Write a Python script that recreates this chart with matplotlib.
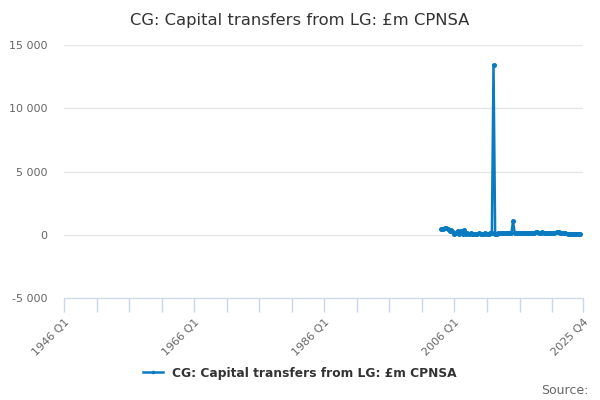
import numpy as np
import matplotlib
matplotlib.use("Agg")
import matplotlib.pyplot as plt
from matplotlib.ticker import FuncFormatter

# quarterly categories 1946 Q1 .. 2025 Q4
years = np.arange(1946, 2026)
quarters = [f"{y} Q{q}" for y in years for q in range(1, 5)]

# series starts at 2004 Q1 (values in £m)
start = quarters.index("2004 Q1")
values = [
    450, 480, 520, 550,      # 2004
    430, 300, 350, 250,      # 2005
    40, 150, 330, 90,        # 2006
    280, 80, 360, 60,        # 2007
    110, 90, 100, 80,        # 2008
    90, 70, 80, 100,         # 2009
    80, 90, 70, 100,         # 2010
    90, 80, 100, 110,        # 2011
    13400, 80, 90, 100,      # 2012
    110, 120, 130, 150,      # 2013
    140, 130, 160, 170,      # 2014
    1050, 150, 120, 140,     # 2015
    130, 120, 140, 130,      # 2016
    150, 160, 170, 150,      # 2017
    140, 160, 180, 200,      # 2018
    170, 150, 180, 160,      # 2019
    120, 140, 150, 130,      # 2020
    120, 140, np.nan, 200,   # 2021
    180, 150, 130, 120,      # 2022
    110, np.nan, 90, 80,     # 2023
    90, 70, 80, 90,          # 2024
    80, 90, np.nan, np.nan,  # 2025
]
series = np.full(len(quarters), np.nan)
series[start:start + len(values)] = values
x = np.arange(len(quarters))

title = "CG: Capital transfers from LG: £m CPNSA"

fig = plt.figure(figsize=(6, 4), dpi=100)
ax = fig.add_axes([64 / 600, 1 - 298 / 400, (583 - 64) / 600, (298 - 45) / 400])

ax.plot(x, series, color="#0a7bc1", lw=1.8, marker="o", ms=2.6, label=title)

ax.set_xlim(0, len(quarters) - 1)
ax.set_ylim(-5000, 15000)
ax.set_yticks([-5000, 0, 5000, 10000, 15000])
ax.yaxis.set_major_formatter(FuncFormatter(lambda v, p: f"{int(v):,}".replace(",", " ")))
ax.grid(axis="y", color="#e6e6e6", lw=1)
ax.set_axisbelow(True)

for s in ["top", "right", "left"]:
    ax.spines[s].set_visible(False)
ax.spines["bottom"].set_color("#ccd6eb")

minor = list(range(0, len(quarters), 20)) + [len(quarters) - 1]
ax.set_xticks(minor, minor=True)
lab_pos = [0, 80, 160, 240, len(quarters) - 1]
ax.set_xticks(lab_pos)
ax.set_xticklabels([quarters[i] for i in lab_pos], rotation=45, ha="right",
                   rotation_mode="anchor", fontsize=8, color="#666666")
ax.tick_params(axis="x", which="both", length=10, color="#ccd6eb", width=1)
ax.tick_params(axis="y", length=0, labelsize=8, labelcolor="#666666", pad=12)

fig.text(0.5, 1 - 20 / 400, title, ha="center", va="center", fontsize=11.8, color="#333333")
leg = fig.legend(loc="center", bbox_to_anchor=(0.5, 1 - 373 / 400), frameon=False,
                 fontsize=8.8, handlelength=1.6, markerscale=0.6)
for t in leg.get_texts():
    t.set_color("#333333")
    t.set_fontweight("bold")
fig.text(589 / 600, 1 - 390 / 400, "Source:", ha="right", va="center", fontsize=9, color="#666666")

fig.savefig("out.png", dpi=100)
